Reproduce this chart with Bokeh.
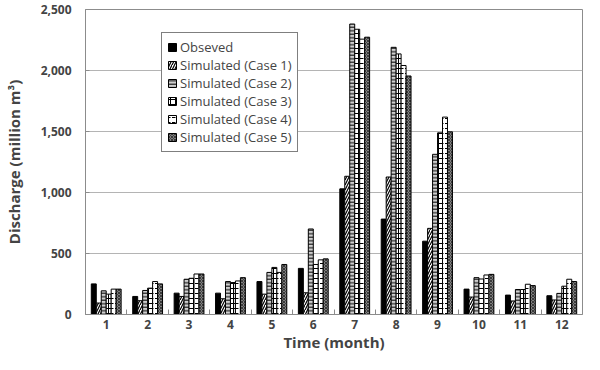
from bokeh.plotting import figure
from bokeh.models import Range1d, FixedTicker, NumeralTickFormatter, ColumnDataSource, Legend, LegendItem
from bokeh.transform import dodge
from bokeh.embed import file_html
from bokeh.resources import INLINE

months = list(range(1, 13))
month_labels = [str(m) for m in months]
observed = [251, 148, 175, 175, 270, 378, 1030, 782, 601, 208, 159, 154]
case1 = [94, 113, 148, 129, 167, 178, 1133, 1127, 706, 143, 111, 119]
case2 = [194, 197, 289, 270, 345, 701, 2381, 2190, 1313, 302, 205, 173]
case3 = [167, 216, 297, 262, 386, 410, 2338, 2136, 1489, 291, 205, 232]
case4 = [208, 270, 332, 275, 345, 448, 2257, 2041, 1618, 324, 248, 289]
case5 = [208, 251, 332, 302, 410, 456, 2273, 1955, 1497, 329, 237, 270]
series_names = ["Obseved", "Simulated (Case 1)", "Simulated (Case 2)",
                "Simulated (Case 3)", "Simulated (Case 4)", "Simulated (Case 5)"]

src = ColumnDataSource(dict(month=months, obs=observed, c1=case1, c2=case2,
                            c3=case3, c4=case4, c5=case5))

FONT = "Open Sans"
p = figure(width=584, height=354, output_backend="svg", toolbar_location=None,
           x_range=Range1d(0.5, 12.5), y_range=Range1d(0, 2500),
           min_border_left=80, min_border_right=2, min_border_top=9, min_border_bottom=36)
p.outline_line_color = "#8c8c8c"
p.xgrid.grid_line_color = None
p.ygrid.grid_line_color = "#b4b4b4"
p.ygrid.ticker = FixedTicker(ticks=[500, 1000, 1500, 2000])

styles = [
    dict(fill_color="black", hatch_pattern=None),
    dict(fill_color="white", hatch_pattern="/", hatch_scale=5, hatch_color="black", hatch_weight=1.2),
    dict(fill_color="#cfcfcf", hatch_pattern="-", hatch_scale=3.5, hatch_color="black", hatch_weight=1),
    dict(fill_color="white", hatch_pattern="+", hatch_scale=5, hatch_color="black", hatch_weight=1),
    dict(fill_color="white", hatch_pattern='"', hatch_scale=5, hatch_color="black", hatch_weight=1),
    dict(fill_color="#808080", hatch_pattern="x", hatch_scale=3, hatch_color="#3a3a3a", hatch_weight=1),
]
cols = ["obs", "c1", "c2", "c3", "c4", "c5"]
offsets = [-0.3, -0.18, -0.06, 0.06, 0.18, 0.30]
items = []
for col, off, st, name in zip(cols, offsets, styles, series_names):
    kw = {k: v for k, v in st.items() if v is not None}
    r = p.vbar(x=dodge("month", off), top=col, width=0.12, source=src,
               line_color="black", line_width=1, **kw)
    items.append(LegendItem(label=name, renderers=[r]))

legend = Legend(items=items, location=(76, 162), border_line_color="black",
                border_line_width=1, background_fill_color="white", background_fill_alpha=1,
                label_text_font=FONT, label_text_font_size="13px", glyph_width=10,
                glyph_height=10, spacing=0, padding=5, margin=0, label_height=14,
                label_standoff=3)
p.add_layout(legend, "center")

xa = p.xaxis[0]
xa.ticker = FixedTicker(ticks=months, minor_ticks=[m + 0.5 for m in months[:-1]])
xa.major_label_overrides = {m: lbl for m, lbl in zip(months, month_labels)}
xa.major_tick_line_color = None
xa.major_tick_in = 0
xa.major_tick_out = 0
xa.minor_tick_in = 5
xa.minor_tick_out = 0
xa.minor_tick_line_color = "#8c8c8c"
xa.axis_line_color = "#8c8c8c"
xa.major_label_text_font = FONT
xa.major_label_text_font_style = "bold"
xa.major_label_text_font_size = "12px"
xa.major_label_standoff = 5
xa.axis_label = "Time (month)"
xa.axis_label_text_font = FONT
xa.axis_label_text_font_style = "bold"
xa.axis_label_text_font_size = "15px"
xa.axis_label_standoff = 0

ya = p.yaxis[0]
ya.ticker = FixedTicker(ticks=[0, 500, 1000, 1500, 2000, 2500])
ya.formatter = NumeralTickFormatter(format="0,0")
ya.major_tick_in = 4
ya.major_tick_out = 0
ya.major_tick_line_color = "#8c8c8c"
ya.minor_tick_line_color = None
ya.axis_line_color = "#8c8c8c"
ya.major_label_text_font = FONT
ya.major_label_text_font_style = "bold"
ya.major_label_text_font_size = "12px"
ya.major_label_standoff = 14
ya.axis_label = "Discharge (million m\u00b3)"
ya.axis_label_text_font = FONT
ya.axis_label_text_font_style = "bold"
ya.axis_label_text_font_size = "15px"
ya.axis_label_standoff = 14

open("out.html", "w").write(file_html(p, INLINE))
